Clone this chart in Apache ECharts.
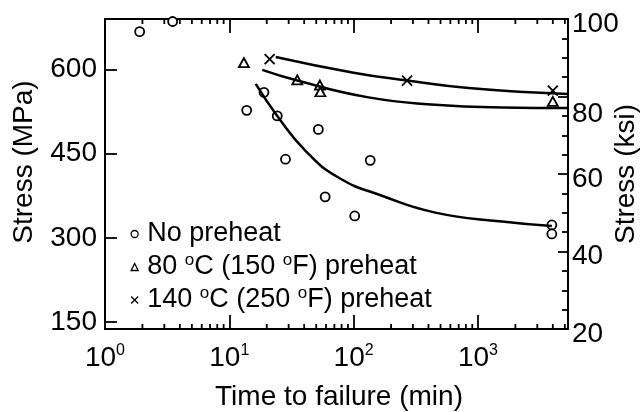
<!DOCTYPE html>
<html>
<head>
<meta charset="utf-8">
<script src="https://cdn.jsdelivr.net/npm/echarts@6/dist/echarts.min.js"></script>
<style>
html,body{margin:0;padding:0;background:#fff;}
#chart{width:643px;height:412px;}
</style>
</head>
<body>
<div id="chart"></div>
<script>
// ---------- data ----------
const seriesNames = ['No preheat', '80 °C (150 °F) preheat', '140 °C (250 °F) preheat'];

const noPreheatTime   = [1.9, 3.5, 13.8, 19, 24.3, 28.3, 52, 59, 102, 136, 3930, 3930];
const noPreheatStress = [667, 685, 527, 559, 517, 440, 493, 373, 339, 438, 323, 307];

const pre80Time   = [13.1, 35.2, 53.5, 54, 4000];
const pre80Stress = [612, 581, 572, 560, 543];

const pre140Time   = [21.1, 269, 4000];
const pre140Stress = [618, 580, 562];

// fitted curves
const noPreheatFitTime   = [16.3, 24.3, 41, 76, 169, 454, 1560, 3930];
const noPreheatFitStress = [574, 517, 455, 407, 375, 345, 329, 321];

const pre80FitTime   = [18.4, 35.2, 132, 454, 1560, 5300];
const pre80FitStress = [599, 580, 550, 537, 532, 531];

const pre140FitTime   = [23.6, 100, 269, 841, 2880, 5300];
const pre140FitStress = [622, 594, 580, 566.5, 558.7, 556];

// axes
const xMin = 1, xMax = 5300;
const ksiMin = 20, ksiMax = 100, ksiStep = 20;
const ksiToMPa = 6.894757;
const mpaTicks = [150, 300, 450, 600];
const xMinorTicks = [2,3,4,5,6,7,8,9, 20,30,40,50,60,70,80,90, 200,300,400,500,600,700,800,900, 2000,3000,4000,5000];

// ---------- chart ----------
const FONT = "'Liberation Sans', Arial, Helvetica, sans-serif";
const mpaMin = ksiMin * ksiToMPa, mpaMax = ksiMax * ksiToMPa;
const zip = (a, b) => a.map((v, i) => [v, b[i]]);
const crossPath = 'path://M0,0L10,10M0,10L10,0';

const chart = echarts.init(document.getElementById('chart'), null, {renderer: 'canvas'});

const lineStyleAxis = {color: '#000', width: 2};
const fitStyle = {color: '#000', width: 2.5};

const option = {
  animation: false,
  backgroundColor: '#fff',
  grid: {left: 105, right: 75, top: 19, bottom: 83},
  legend: {
    orient: 'vertical',
    left: 130.5, top: 219, padding: 0,
    itemWidth: 7, itemHeight: 7, itemGap: 3,
    data: seriesNames,
    selectedMode: false,
    itemStyle: {borderWidth: 1.3},
    formatter: name => '{g| }' + name.replace(/°/g, '{sup|o}'),
    textStyle: {
      color: '#000', fontFamily: FONT, fontSize: 27, lineHeight: 30,
      rich: {
        g: {width: 4, fontSize: 27, lineHeight: 30},
        sup: {fontSize: 17, lineHeight: 12, verticalAlign: 'top', fontFamily: FONT, color: '#000'}
      }
    }
  },
  xAxis: [{
    type: 'log', logBase: 10, min: xMin, max: xMax, position: 'bottom',
    axisLine: {show: true, lineStyle: lineStyleAxis},
    axisTick: {show: true, inside: true, length: 14, lineStyle: {color: '#000', width: 1.8}},
    splitLine: {show: false},
    axisLabel: {
      showMaxLabel: false, margin: 14, color: '#000',
      formatter: v => '{b|10}{s|' + Math.round(Math.log10(v)) + '}',
      rich: {
        b: {fontSize: 28, lineHeight: 30, fontFamily: FONT, color: '#000'},
        s: {fontSize: 16, lineHeight: 12, verticalAlign: 'top', fontFamily: FONT, color: '#000'}
      }
    }
  }, {
    type: 'log', logBase: 10, min: xMin, max: xMax, position: 'top',
    axisLine: {show: true, lineStyle: lineStyleAxis},
    axisTick: {show: true, inside: true, length: 14, lineStyle: {color: '#000', width: 1.8}},
    splitLine: {show: false},
    axisLabel: {show: false}
  }],
  yAxis: [{
    type: 'value', min: mpaMin, max: mpaMax, position: 'left',
    axisLine: {show: true, lineStyle: lineStyleAxis},
    axisTick: {show: true, inside: true, length: 12, customValues: mpaTicks, lineStyle: {color: '#000', width: 1.8}},
    splitLine: {show: false},
    axisLabel: {customValues: mpaTicks, margin: 8, color: '#000', fontSize: 28, fontFamily: FONT, padding: [5, 0, 0, 0]}
  }, {
    type: 'value', min: ksiMin, max: ksiMax, interval: ksiStep, position: 'right',
    axisLine: {show: true, lineStyle: lineStyleAxis},
    axisTick: {show: true, inside: true, length: 10, lineStyle: {color: '#000', width: 1.8}},
    minorTick: {show: true, splitNumber: 4, length: 6, lineStyle: {color: '#000', width: 1.8}},
    splitLine: {show: false},
    minorSplitLine: {show: false},
    axisLabel: {
      margin: 4, color: '#000', fontSize: 28, fontFamily: FONT, padding: [10, 0, 0, 0],
      formatter: v => (v === 80 ? '{lo|80}' : String(v)),
      rich: {lo: {fontSize: 28, fontFamily: FONT, color: '#000', padding: [26, 0, 0, 0]}}
    }
  }],
  graphic: [
    {type: 'text', x: 339, y: 397, silent: true,
     style: {text: 'Time to failure (min)', font: '28px ' + FONT, fill: '#000', align: 'center', verticalAlign: 'middle'}},
    {type: 'text', x: 24, y: 162, rotation: Math.PI / 2, silent: true,
     style: {text: 'Stress (MPa)', font: '28px ' + FONT, fill: '#000', align: 'center', verticalAlign: 'middle'}},
    {type: 'text', x: 626, y: 174, rotation: Math.PI / 2, silent: true,
     style: {text: 'Stress (ksi)', font: '28px ' + FONT, fill: '#000', align: 'center', verticalAlign: 'middle'}}
  ],
  series: [
    {
      name: 'minor-ticks', type: 'custom', xAxisIndex: 0, yAxisIndex: 0, silent: true, clip: false,
      data: xMinorTicks.map(v => [v, mpaMin]),
      renderItem: (params, api) => {
        const x = api.coord([api.value(0), mpaMin])[0];
        const cs = params.coordSys;
        const st = {stroke: '#000', lineWidth: 1.8};
        return {type: 'group', children: [
          {type: 'line', shape: {x1: x, y1: cs.y + cs.height, x2: x, y2: cs.y + cs.height - 5}, style: st},
          {type: 'line', shape: {x1: x, y1: cs.y, x2: x, y2: cs.y + 5}, style: st}
        ]};
      }
    },
    {
      name: 'fit-none', type: 'line', data: zip(noPreheatFitTime, noPreheatFitStress),
      showSymbol: false, smooth: 0.5, silent: true, lineStyle: fitStyle, itemStyle: {color: '#000'}
    },
    {
      name: 'fit-80', type: 'line', data: zip(pre80FitTime, pre80FitStress),
      showSymbol: false, smooth: 0.5, silent: true, lineStyle: fitStyle, itemStyle: {color: '#000'}
    },
    {
      name: 'fit-140', type: 'line', data: zip(pre140FitTime, pre140FitStress),
      showSymbol: false, smooth: 0.5, silent: true, lineStyle: fitStyle, itemStyle: {color: '#000'}
    },
    {
      name: seriesNames[0], type: 'scatter', data: zip(noPreheatTime, noPreheatStress),
      symbol: 'circle', symbolSize: 9, clip: false,
      itemStyle: {color: '#fff', borderColor: '#000', borderWidth: 1.8, opacity: 1}
    },
    {
      name: seriesNames[1], type: 'scatter', data: zip(pre80Time, pre80Stress),
      symbol: 'triangle', symbolSize: [10, 9], clip: false,
      itemStyle: {color: '#fff', borderColor: '#000', borderWidth: 1.8, opacity: 1}
    },
    {
      name: seriesNames[2], type: 'scatter', data: zip(pre140Time, pre140Stress),
      symbol: crossPath, symbolSize: 10, clip: false,
      itemStyle: {color: '#000', borderColor: '#000', borderWidth: 1.8, opacity: 1}
    }
  ]
};
chart.setOption(option);
</script>
</body>
</html>
